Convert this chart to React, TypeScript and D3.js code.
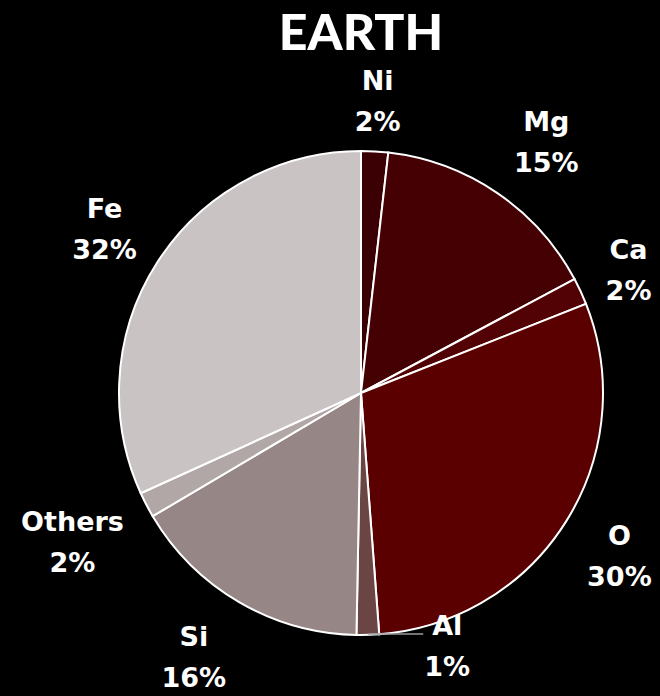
import React from "react";
import * as d3 from "d3";

const names = ["Ni", "Mg", "Ca", "O", "Al", "Si", "Others", "Fe"];
const values = [1.8, 15.4, 1.8, 29.8, 1.5, 16.2, 1.7, 31.8];
const pctLabels = ["2%", "15%", "2%", "30%", "1%", "16%", "2%", "32%"];
const colors = ["#3b0003", "#450004", "#520204", "#5a0000", "#6b4444", "#968786", "#b1a7a7", "#c9c3c3"];
const title = "EARTH";

const W = 660, H = 696;
const cx = 361, cy = 393, R = 242;
const TFONT = "Lato, 'Open Sans', sans-serif";
const FONT = "'DejaVu Sans', sans-serif";
const FS = 27;

function measure(text: string, size: number) {
  const c = document.createElement("canvas").getContext("2d");
  if (!c) return text.length * size * 0.65;
  c.font = `bold ${size}px ${FONT}`;
  return c.measureText(text).width;
}

export default function App() {
  const pie = d3.pie<number>().sort(null).value((d) => d)(values);
  const arc = d3.arc<d3.PieArcDatum<number>>().innerRadius(0).outerRadius(R);
  const shift: Record<string, [number, number]> = { Mg: [14, 0], Si: [-14, 0], Others: [-4, 0] };
  const callout: Record<string, [number, number]> = { Al: [78, -40] };

  return (
    <svg width={W} height={H} style={{ position: "absolute", left: 0, top: 0, background: "#000" }}>
      <rect width={W} height={H} fill="#000" />
      <text x={cx} y={50} textAnchor="middle" fill="#fff" fontFamily={TFONT} fontWeight={900} fontSize={50}>
        {title}
      </text>
      <g transform={`translate(${cx},${cy})`}>
        {pie.map((p, i) => (
          <path key={i} d={arc(p) || ""} fill={colors[i]} stroke="#fff" strokeWidth={2} />
        ))}
      </g>
      {pie.map((p, i) => {
        const a = (p.startAngle + p.endAngle) / 2;
        const s = Math.sin(a), c = Math.cos(a);
        const hw = Math.max(measure(names[i], FS), measure(pctLabels[i], FS)) / 2;
        const hh = 31;
        const d = R + 19 + hw * Math.abs(s) + hh * Math.abs(c);
        let lx = cx + d * s, ly = cy - d * c;
        const sh = shift[names[i]];
        if (sh) { lx += sh[0]; ly += sh[1]; }
        const nd = callout[names[i]];
        let leader: React.ReactNode = null;
        if (nd) {
          lx = cx + (R + 19 + hh) * s + nd[0];
          ly = cy - (R + 19 + hh) * c + nd[1];
          const ax = cx + R * s, ay = cy - R * c;
          leader = (
            <path d={`M${ax},${ay - 1}L${lx - 24},${ly - 11}`} stroke="#9a9a9a" strokeWidth={1.5} fill="none" />
          );
        }
        return (
          <g key={i}>
            {leader}
            <text x={lx} y={ly - 10} textAnchor="middle" fill="#fff" fontFamily={FONT} fontWeight="bold" fontSize={FS}>
              {names[i]}
            </text>
            <text x={lx} y={ly + 31} textAnchor="middle" fill="#fff" fontFamily={FONT} fontWeight="bold" fontSize={FS}>
              {pctLabels[i]}
            </text>
          </g>
        );
      })}
    </svg>
  );
}
